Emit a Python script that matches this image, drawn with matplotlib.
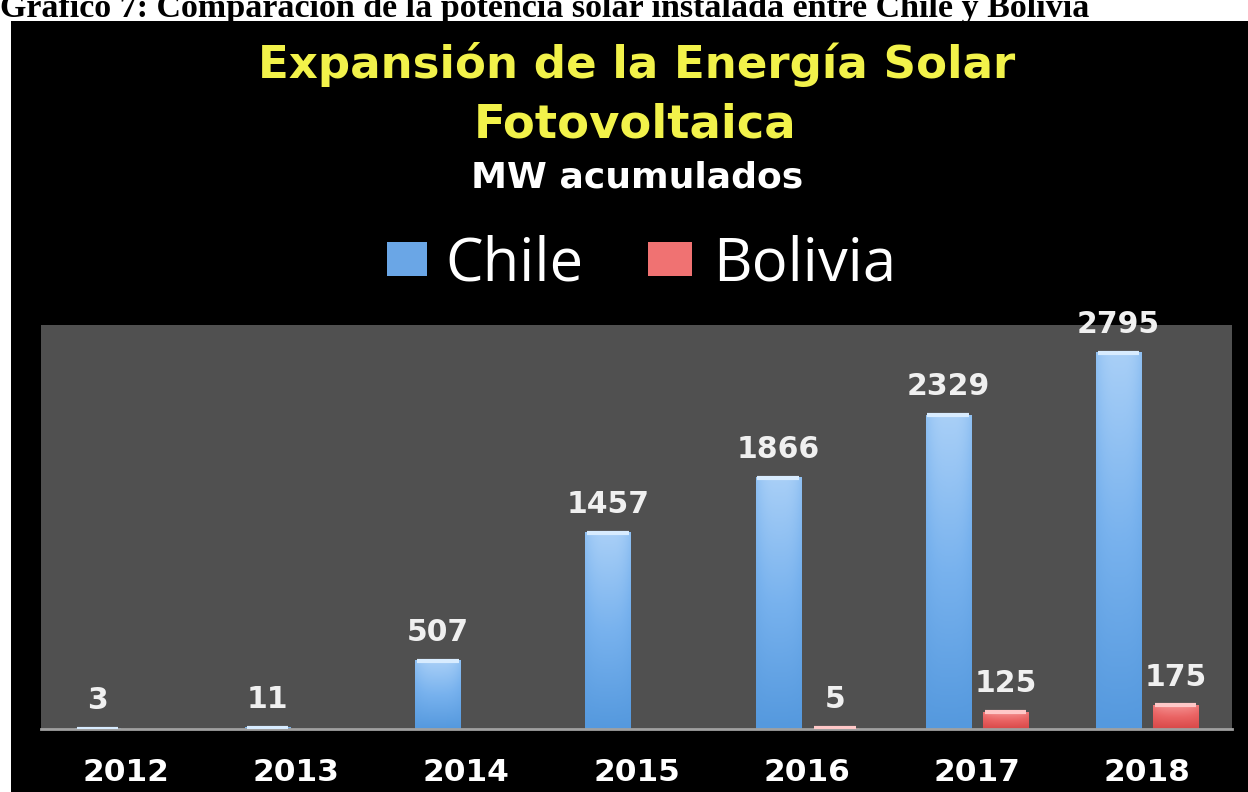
import matplotlib.pyplot as plt
import numpy as np
from matplotlib.colors import LinearSegmentedColormap
from matplotlib.patches import Rectangle

# data
years = ['2012', '2013', '2014', '2015', '2016', '2017', '2018']
chile = [3, 11, 507, 1457, 1866, 2329, 2795]
bolivia = [None, None, None, None, 5, 125, 175]

W, H = 1248, 792
def fx(x): return x / W
def fy(y): return 1 - y / H

fig = plt.figure(figsize=(W/100, H/100), dpi=100)
fig.patch.set_facecolor('white')
# black slide area
fig.patches.append(Rectangle((fx(11), 0), 1, fy(21), transform=fig.transFigure,
                             facecolor='black', edgecolor='none', zorder=-5))

# caption (cut at the top in the original)
fig.text(fx(0), fy(17), 'Gráfico 7: Comparación de la potencia solar instalada entre Chile y Bolivia',
         family='Liberation Serif', weight='bold', fontsize=24.5, color='black', va='baseline', ha='left')

# titles
fig.text(fx(637), fy(78), 'Expansión de la Energía Solar', ha='center', va='baseline',
         fontsize=32.5, weight='bold', color='#f2f24a')
fig.text(fx(635), fy(138), 'Fotovoltaica', ha='center', va='baseline',
         fontsize=33.5, weight='bold', color='#f2f24a')
fig.text(fx(637), fy(187), 'MW acumulados', ha='center', va='baseline',
         fontsize=26, weight='bold', color='white')

# legend drawn by hand
fig.patches.append(Rectangle((fx(387), fy(276)), fx(40), 34/H, transform=fig.transFigure,
                             facecolor='#6aa6e6', edgecolor='none'))
fig.text(fx(445), fy(280), 'Chile', family='Open Sans', fontsize=43, color='white', va='baseline')
fig.patches.append(Rectangle((fx(648), fy(276)), fx(44), 34/H, transform=fig.transFigure,
                             facecolor='#f07272', edgecolor='none'))
fig.text(fx(713), fy(280), 'Bolivia', family='Open Sans', fontsize=43, color='white', va='baseline')

ax = fig.add_axes([fx(41), fy(729), fx(1232-41), (729-325)/H])
ax.set_facecolor('#505050')

blue = LinearSegmentedColormap.from_list('b', ['#5599de', '#78b2ee', '#a8cff7'])
red = LinearSegmentedColormap.from_list('r', ['#d84848', '#ea6464', '#f49090'])
grad = np.linspace(0, 1, 64).reshape(-1, 1)
edge = 1 - 0.25 * np.abs(np.linspace(-1, 1, 32))**3
x = np.arange(len(years))
bw = 0.265
off = 0.168

def draw_bar(xc, val, cmap, top_col):
    ramp = grad * edge[None, :]
    ax.imshow(ramp, extent=[xc - bw/2, xc + bw/2, 0, val], origin='lower', aspect='auto',
              cmap=cmap, vmin=0, vmax=1, zorder=2, interpolation='bilinear')
    ax.hlines(val, xc - bw/2 + 0.01, xc + bw/2 - 0.01, color=top_col, lw=3, zorder=3)
    ax.annotate(str(val), (xc, val), xytext=(0, 10), textcoords='offset points',
                ha='center', va='bottom', fontsize=21.5, weight='bold', color='#f0f0f0')

for i in range(len(years)):
    draw_bar(x[i] - off, chile[i], blue, '#d8ecff')
    if bolivia[i] is not None:
        draw_bar(x[i] + off, bolivia[i], red, '#ffc8c8')

ax.set_xlim(-0.5, 6.5)
ax.set_ylim(0, 3000)
ax.set_yticks([])
ax.set_xticks(x)
ax.set_xticklabels(years, fontsize=22.5, weight='bold', color='white')
ax.tick_params(axis='x', length=0, pad=21)
for s in ['top', 'left', 'right']:
    ax.spines[s].set_visible(False)
ax.spines['bottom'].set_color('#a0a0a0')
ax.spines['bottom'].set_linewidth(2)

fig.savefig('out.png', dpi=100, facecolor=fig.get_facecolor())
